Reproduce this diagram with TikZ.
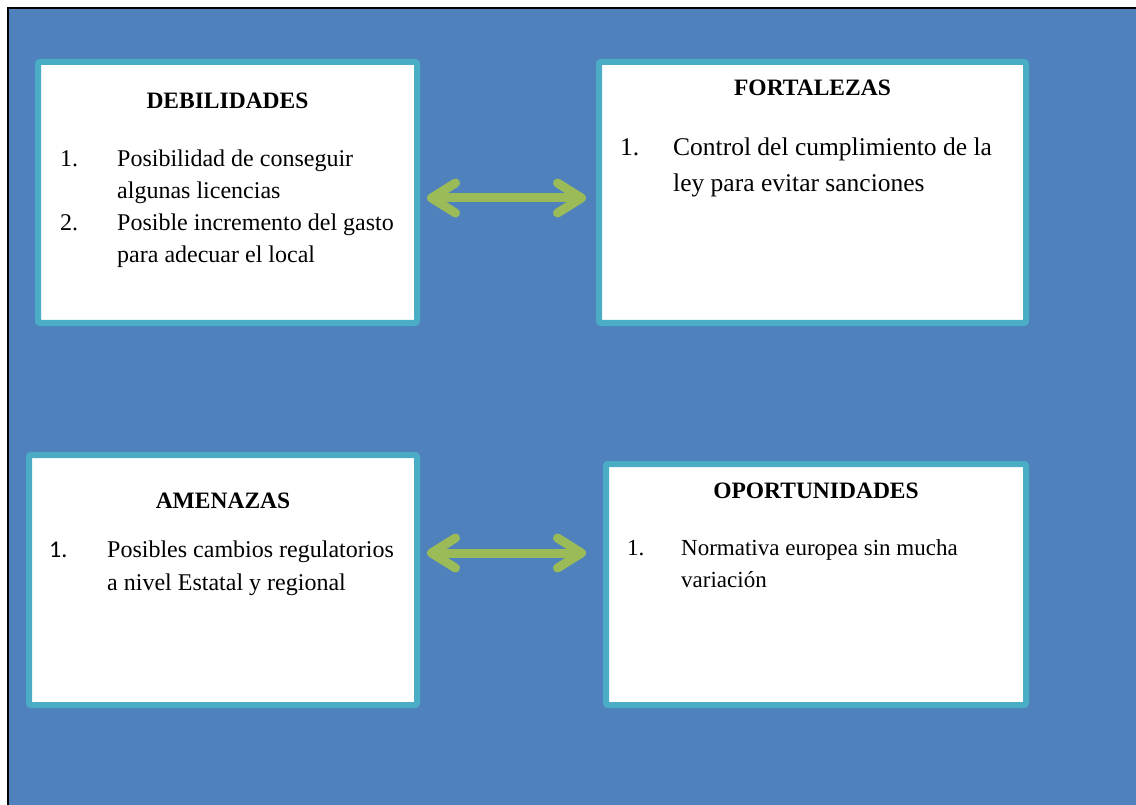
\documentclass[tikz,border=0pt]{standalone}
\usepackage{fontspec}
\setmainfont{Liberation Serif}
\newfontfamily\numsans{Carlito}
\usetikzlibrary{arrows.meta, positioning}
\definecolor{fondo}{HTML}{4F81BD}
\definecolor{borde}{HTML}{4BACC6}
\definecolor{verde}{HTML}{9BBB59}

\begin{document}
\begin{tikzpicture}[
    x=1pt, y=-1pt,
    cuadro/.style = {rectangle, draw=borde, line width=6pt, fill=white, rounded corners=2pt, inner sep=0pt, outer sep=0pt},
    titulo/.style = {anchor=base, inner sep=0pt, font=\fontsize{23.5}{28}\selectfont\bfseries},
    lista/.style  = {anchor=base west, inner sep=0pt},
    punta/.tip    = {Straight Barb[round, length=24pt, width=30pt]},
    flecha/.style = {punta-punta, draw=verde, line width=9pt, line cap=round,
                     preaction={draw=black, opacity=0.22, transform canvas={shift={(1.5pt,-3pt)}}}}
]

% --- Fondo ---
\useasboundingbox (0,0) rectangle (1136,805);
\fill[white] (0,0) rectangle (1136,805);
\fill[fondo] (8,8) rectangle (1136,805);
\draw[black, line width=2pt] (8,805) -- (8,8) -- (1136,8);

% --- Cuadros ---
\node[cuadro, minimum width=379pt, minimum height=261pt] (deb) at (227.5,192.5) {};
\node[cuadro, minimum width=427pt, minimum height=261pt] (fort) at (812.5,192.5) {};
\node[cuadro, minimum width=388pt, minimum height=250pt] (amen) at (223,580) {};
\node[cuadro, minimum width=420pt, minimum height=241pt] (opor) at (816,584.5) {};

% --- Debilidades ---
\node[titulo] (debt) at ([yshift=-47pt]deb.north) {DEBILIDADES};
\node[lista, font=\fontsize{24}{31.7}\selectfont] (debl) at ([xshift=22pt, yshift=-105pt]deb.north west) {%
  \begin{tabular}[t]{@{}p{57pt}@{}l@{}}
    1. & Posibilidad de conseguir\\
       & algunas licencias\\
    2. & Posible incremento del gasto\\
       & para adecuar el local
  \end{tabular}};

% --- Fortalezas ---
\node[titulo] (fortt) at ([yshift=-34pt]fort.north) {FORTALEZAS};
\node[lista, font=\fontsize{25.5}{36}\selectfont] (fortl) at ([xshift=21pt, yshift=-94pt]fort.north west) {%
  \begin{tabular}[t]{@{}p{53pt}@{}l@{}}
    1. & Control del cumplimiento de la\\
       & ley para evitar sanciones
  \end{tabular}};

% --- Amenazas ---
\node[titulo] (ament) at ([yshift=-53pt]amen.north) {AMENAZAS};
\node[lista, font=\fontsize{24}{33}\selectfont] (amenl) at ([xshift=20pt, yshift=-102pt]amen.north west) {%
  \begin{tabular}[t]{@{}p{58pt}@{}l@{}}
    {\numsans 1.} & Posibles cambios regulatorios\\
                  & a nivel Estatal y regional
  \end{tabular}};

% --- Oportunidades ---
\node[titulo] (oport) at ([yshift=-34pt]opor.north) {OPORTUNIDADES};
\node[lista, font=\fontsize{23}{32}\selectfont] (oporl) at ([xshift=21pt, yshift=-91pt]opor.north west) {%
  \begin{tabular}[t]{@{}p{54pt}@{}l@{}}
    1. & Normativa europea sin mucha\\
       & variación
  \end{tabular}};

% --- Flechas ---
\draw[flecha, shorten <=10pt, shorten >=13pt] ([yshift=-5.5pt]deb.east) -- ([yshift=-5.5pt]fort.west);
\draw[flecha, shorten <=10pt, shorten >=20pt] ([yshift=27pt]amen.east) -- ([yshift=31.5pt]opor.west);

\end{tikzpicture}
\end{document}
